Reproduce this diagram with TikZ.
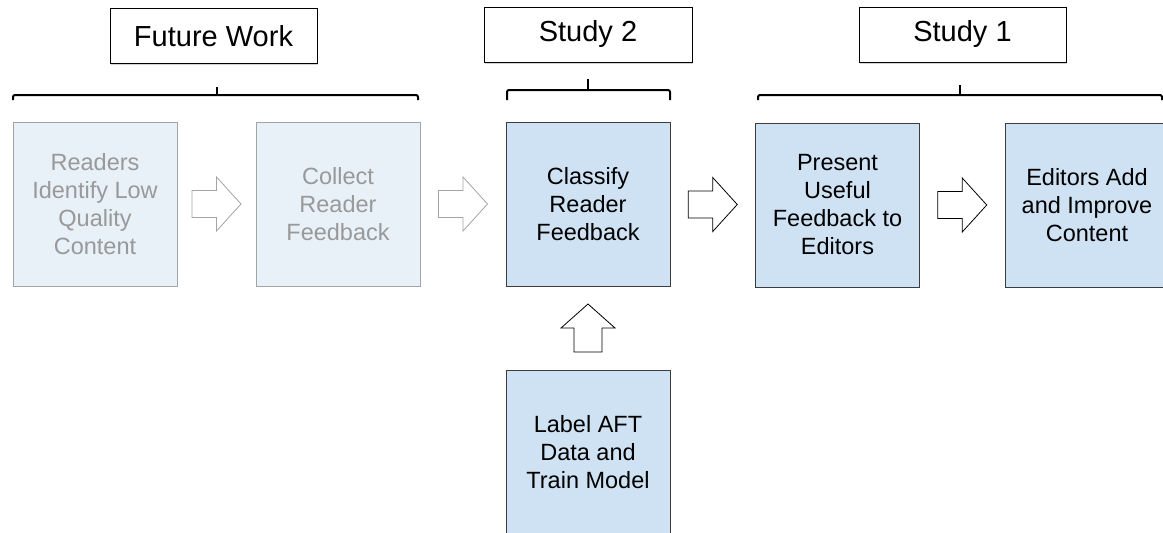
\documentclass[tikz,border=0pt]{standalone}
\usepackage{fontspec}
\setmainfont{Liberation Sans}
\usetikzlibrary{shadows,calc}

\definecolor{activefill}{HTML}{CFE2F3}
\definecolor{activeline}{HTML}{3C3C3C}
\definecolor{fadefill}{HTML}{E8F0F8}
\definecolor{fadeline}{HTML}{A4A4A4}
\definecolor{fadetext}{HTML}{999999}

\tikzset{
  titlebox/.style={draw=black, line width=1pt, fill=white, inner sep=0pt,
    minimum height=55pt, font=\fontsize{29}{34}\selectfont,
    drop shadow={opacity=0.35, shadow xshift=1pt, shadow yshift=-1.5pt}},
  activebox/.style={draw=activeline, line width=1pt, fill=activefill,
    minimum width=164pt, minimum height=164pt, inner sep=0pt, align=center,
    font=\fontsize{23.5}{28}\selectfont},
  fadebox/.style={activebox, draw=fadeline, fill=fadefill, text=fadetext},
  bracket/.style={draw=black, line width=2pt, rounded corners=2pt},
  activearrow/.style={draw=black, line width=0.8pt, fill=white},
  fadearrow/.style={draw=fadeline, line width=0.8pt, fill=white},
  rightarrow/.pic={\path[pic actions] (-24.5,-13.5) -- (0,-13.5) -- (0,-27) -- (24.5,0)
      -- (0,27) -- (0,13.5) -- (-24.5,13.5) -- cycle;},
  uparrow/.pic={\path[pic actions] (-14,24) -- (-14,0) -- (-27,0) -- (0,-24)
      -- (27,0) -- (14,0) -- (14,24) -- cycle;}
}

\begin{document}
\begin{tikzpicture}[x=1pt, y=-1pt]
  \useasboundingbox (0,0) rectangle (1163,533);

  % column headings
  \node[titlebox, minimum width=207pt] (fw) at (213.5,36) {Future Work};
  \node[titlebox, minimum width=208pt] (s2) at (588,34.5) {Study 2};
  \node[titlebox, minimum width=207pt] (s1) at (962.5,34.5) {Study 1};

  % brackets grouping the steps under each heading
  \path[bracket] (13,100) -- (13,95) -- (418,95) -- (418,100);
  \path[bracket] (217,95) -- (217,87);
  \path[bracket] (507,100) -- (507,90) -- (670,90) -- (670,100);
  \path[bracket] (588,90) -- (588,79);
  \path[bracket] (758,100) -- (758,95) -- (1162,95) -- (1162,100);
  \path[bracket] (960,95) -- (960,85);

  % pipeline steps
  \node[fadebox] (readers) at (95,204) {Readers\\Identify Low\\Quality\\Content};
  \node[fadebox] (collect) at (338,204) {Collect\\Reader\\Feedback};
  \node[activebox] (classify) at (588,204) {Classify\\Reader\\Feedback};
  \node[activebox] (present) at (837.5,205) {Present\\Useful\\Feedback to\\Editors};
  \node[activebox] (editors) at (1087,205) {Editors Add\\and Improve\\Content};
  \node[activebox] (label) at (588,452) {Label AFT\\Data and\\Train Model};

  % block arrows between the steps
  \pic[fadearrow] at ($(readers.east)!0.5!(collect.west)$) {rightarrow};
  \pic[fadearrow] at ($(collect.east)!0.5!(classify.west)$) {rightarrow};
  \pic[activearrow] at ($(classify.east)!0.5!(present.west)$) {rightarrow};
  \pic[activearrow] at ($(present.east)!0.5!(editors.west)$) {rightarrow};
  \pic[activearrow] at ($(label.north)!0.5!(classify.south)$) {uparrow};
\end{tikzpicture}
\end{document}
